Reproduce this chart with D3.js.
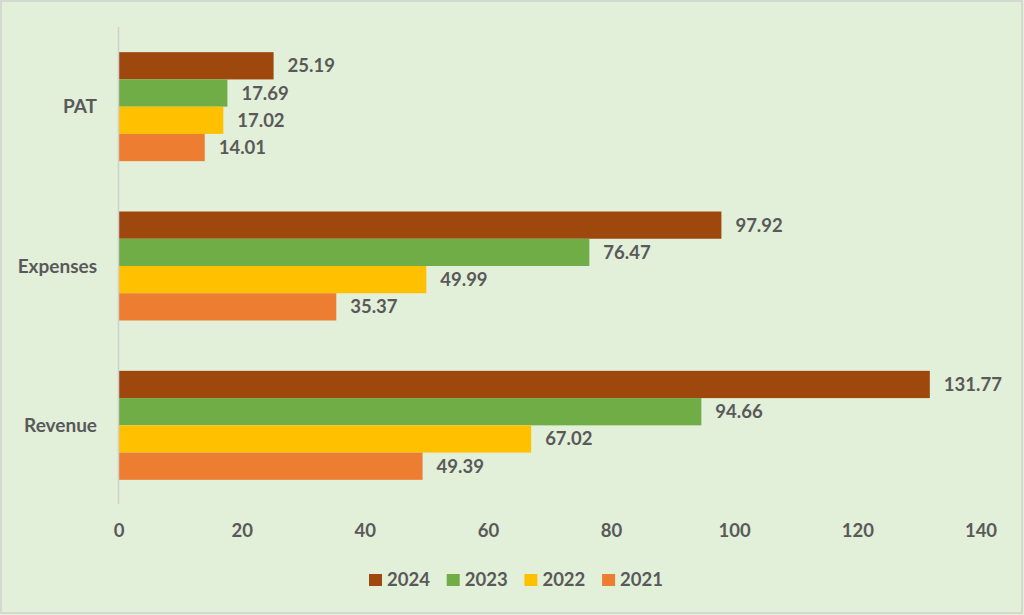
<html>
<head>
<script src="https://d3js.org/d3.v7.min.js"></script>
<style>
    html, body {
        margin: 0;
        padding: 0;
        background: #e2efd9;
    }
    text {
        font-family: Lato, "Open Sans", sans-serif;
        font-weight: bold;
        fill: #595959;
    }
</style>
</head>
<body>
<script>
    // data
    var categories = ["PAT", "Expenses", "Revenue"];
    var years = ["2024", "2023", "2022", "2021"];
    var colors = ["#9e480e", "#70ad47", "#ffc000", "#ed7d31"];
    var values = {
        "2024": [25.19, 97.92, 131.77],
        "2023": [17.69, 76.47, 94.66],
        "2022": [17.02, 49.99, 67.02],
        "2021": [14.01, 35.37, 49.39]
    };
    var xTicks = [0, 20, 40, 60, 80, 100, 120, 140];

    var width = 1024, height = 615;

    var svg = d3.select("body").append("svg")
        .attr("width", width)
        .attr("height", height);

    // background + border
    svg.append("rect")
        .attr("x", 1).attr("y", 1)
        .attr("width", width - 3).attr("height", height - 3)
        .attr("fill", "#e2efd9")
        .attr("stroke", "#d4d9d0")
        .attr("stroke-width", 2);

    var x = d3.scaleLinear().domain([0, 140]).range([118.5, 980.5]);

    var y = d3.scaleBand()
        .domain(categories)
        .range([27, 505])
        .paddingInner(0.316)
        .paddingOuter(0.158);

    var ySub = d3.scaleBand()
        .domain(years)
        .range([0, y.bandwidth()]);

    var color = d3.scaleOrdinal().domain(years).range(colors);

    // bars
    var groups = svg.selectAll(".grp")
        .data(categories)
        .enter().append("g")
        .attr("class", "grp")
        .attr("transform", function (d) { return "translate(0," + y(d) + ")"; });

    groups.each(function (cat, ci) {
        var g = d3.select(this);
        var rows = years.map(function (yr) { return { year: yr, value: values[yr][ci] }; });

        g.selectAll("rect")
            .data(rows)
            .enter().append("rect")
            .attr("x", x(0))
            .attr("y", function (d) { return ySub(d.year); })
            .attr("width", function (d) { return x(d.value) - x(0); })
            .attr("height", ySub.bandwidth())
            .attr("fill", function (d) { return color(d.year); });

        g.selectAll("text.val")
            .data(rows)
            .enter().append("text")
            .attr("class", "val")
            .attr("x", function (d) { return x(d.value) + 14; })
            .attr("y", function (d) { return ySub(d.year) + ySub.bandwidth() / 2; })
            .attr("dy", "0.35em")
            .style("font-size", "18.5px")
            .text(function (d) { return d.value.toFixed(2); });
    });

    // y axis line
    svg.append("line")
        .attr("x1", x(0)).attr("x2", x(0))
        .attr("y1", 27).attr("y2", 504)
        .attr("stroke", "#d0d0d0")
        .attr("stroke-width", 1.5);

    // category labels
    svg.selectAll(".cat")
        .data(categories)
        .enter().append("text")
        .attr("class", "cat")
        .attr("x", 97)
        .attr("y", function (d) { return y(d) + y.bandwidth() / 2; })
        .attr("dy", "0.35em")
        .attr("text-anchor", "end")
        .style("font-size", "19px")
        .text(function (d) { return d; });

    // x axis
    var xAxis = svg.append("g")
        .attr("transform", "translate(0,505)")
        .call(d3.axisBottom(x).tickValues(xTicks).tickSize(0).tickPadding(19));
    xAxis.select(".domain").remove();
    xAxis.selectAll("text")
        .style("font-size", "18.5px")
        .style("font-family", "Lato, 'Open Sans', sans-serif")
        .style("font-weight", "bold")
        .attr("fill", "#595959");

    // legend
    var legend = svg.append("g").attr("transform", "translate(369,574)");
    var item = legend.selectAll(".lg")
        .data(years)
        .enter().append("g")
        .attr("class", "lg")
        .attr("transform", function (d, i) { return "translate(" + (i * 77.7) + ",0)"; });
    item.append("rect")
        .attr("width", 13).attr("height", 12)
        .attr("fill", function (d) { return color(d); });
    item.append("text")
        .attr("x", 18)
        .attr("y", 6)
        .attr("dy", "0.35em")
        .style("font-size", "18.5px")
        .text(function (d) { return d; });
</script>
</body>
</html>
